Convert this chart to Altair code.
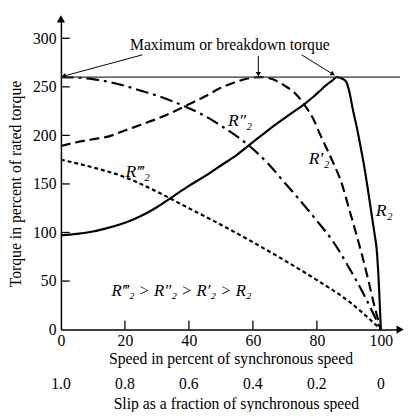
import altair as alt
import pandas as pd

# ---- data ----
r2_speed = [0, 5, 10, 15, 20, 25, 30, 35, 40, 45, 50, 55, 60, 65, 70, 73, 76, 79, 81, 83, 85, 86.2, 87.5, 89, 90, 91.4, 92.5, 93.5, 95, 96, 97, 98, 98.7, 99.4, 100]
r2_torque = [97, 98.5, 101, 105, 110, 117, 126, 137, 148, 158, 169, 180, 193, 206, 218, 225, 232, 240, 246, 252, 257, 260, 259, 256, 247, 224, 208, 191, 164, 143, 121, 99, 82, 45, 0]

r2p_speed = [0, 5, 10, 15, 20, 25, 30, 35, 40, 45, 50, 55, 60, 62.3, 66, 70, 73, 76, 79, 81, 84.4, 88, 90, 92, 94, 96, 98, 100]
r2p_torque = [189, 193, 196, 199, 205, 211, 217, 224, 232, 240, 249, 255.5, 259.5, 260, 258, 251, 244, 232, 216, 201, 177, 148, 125, 102, 78, 52, 24, 0]

r2pp_speed = [0, 5, 10, 15, 20, 25, 30, 35, 40, 45, 50, 55, 60, 65, 70, 75, 80, 85, 90, 95, 100]
r2pp_torque = [260, 259.5, 258, 255, 251, 246, 241, 235, 228, 220, 210, 199, 186, 170, 151, 132, 112, 91, 64, 34, 0]

r2ppp_speed = [0, 10, 20, 30, 40, 50, 60, 70, 80, 90, 100]
r2ppp_torque = [175, 167, 157, 142, 125, 108, 90, 71, 51, 29, 0]

max_torque = 260

speed_ticks = [0, 20, 40, 60, 80, 100]
torque_ticks = [0, 50, 100, 150, 200, 250, 300]
inner_speed_ticks = [20, 40, 60, 80]
inner_torque_ticks = [50, 100, 150, 200, 250, 300]
slip_labels = ["1.0", "0.8", "0.6", "0.4", "0.2", "0"]
slip_values = [1.0, 0.8, 0.6, 0.4, 0.2, 0.0]

label_text = ["R\u2034\u2082", "R\u2033\u2082", "R\u2032\u2082", "R\u2082"]
label_x = [24, 56, 80.7, 101]
label_y = [162, 215, 176, 122]

relation_text = ["R\u2034\u2082 > R\u2033\u2082 > R\u2032\u2082 > R\u2082"]
relation_x = [37.7]
relation_y = [39.4]

annot_text = ["Maximum or breakdown torque"]
annot_x = [52.8]
annot_y = [293]

arrow_x1 = [25.5, 61.7, 75.2]
arrow_y1 = [283, 282, 283]
arrow_x2 = [0.8, 61.7, 85.0]
arrow_y2 = [261, 263, 263]
arrow_angle = [255, 180, 121]

# ---- layout ----
W, H = 346, 317
FONT = "Liberation Serif"
xs = alt.Scale(domain=[0, 106], nice=False, zero=False)
ys = alt.Scale(domain=[0, 320], nice=False, zero=False)


def curve(sp, tq):
    return pd.DataFrame({"speed": sp, "torque": tq})


x_axis = alt.Axis(values=speed_ticks, ticks=False, tickSize=0, grid=False,
                  domainColor="black", domainWidth=1.5,
                  labelFont=FONT, labelFontSize=16, labelColor="black", labelPadding=3,
                  labelFlush=False,
                  title="Speed in percent of synchronous speed", titleFont=FONT,
                  titleFontSize=16, titleFontWeight="normal", titleColor="black",
                  titlePadding=3)
y_axis = alt.Axis(values=torque_ticks, ticks=False, tickSize=0, grid=False,
                  domainColor="black", domainWidth=1.5,
                  labelFont=FONT, labelFontSize=16, labelColor="black", labelPadding=5,
                  labelFlush=False,
                  title="Torque in percent of rated torque", titleFont=FONT,
                  titleFontSize=16, titleFontWeight="normal", titleColor="black",
                  titlePadding=9, titleY=168)


def X(field):
    return alt.X(field, scale=xs, axis=x_axis)


def Y(field):
    return alt.Y(field, scale=ys, axis=y_axis)


def line_layer(sp, tq, dash=None):
    kw = dict(color="black", strokeWidth=2.2, interpolate="monotone")
    if dash:
        kw["strokeDash"] = dash
    return alt.Chart(curve(sp, tq)).mark_line(**kw).encode(
        x=X("speed:Q"), y=Y("torque:Q"))


l_r2 = line_layer(r2_speed, r2_torque)
l_p = line_layer(r2p_speed, r2p_torque, [10, 5])
l_pp = line_layer(r2pp_speed, r2pp_torque, [13, 5, 3, 5])
l_ppp = line_layer(r2ppp_speed, r2ppp_torque, [4, 3])

max_line = alt.Chart(pd.DataFrame({"speed": [0], "b": [106], "torque": [max_torque]})).mark_rule(
    color="#333333", strokeWidth=1.3).encode(
    x=X("speed:Q"), x2="b:Q", y=Y("torque:Q"))

xt = alt.Chart(pd.DataFrame({"speed": inner_speed_ticks})).mark_rule(
    color="black", strokeWidth=1.3).encode(
    x=X("speed:Q"), y=alt.value(H), y2=alt.value(H - 9))
yt = alt.Chart(pd.DataFrame({"torque": inner_torque_ticks})).mark_rule(
    color="black", strokeWidth=1.3).encode(
    y=Y("torque:Q"), x=alt.value(0), x2=alt.value(9))

axis_heads = alt.Chart(pd.DataFrame({"speed": [0, 106], "torque": [320, 0], "ang": [0, 90]})).mark_point(
    shape="triangle-up", filled=True, color="black", size=70, opacity=1).encode(
    x=X("speed:Q"), y=Y("torque:Q"),
    angle=alt.Angle("ang:Q", scale=None))

arr_df = pd.DataFrame({"speed": arrow_x1, "torque": arrow_y1, "x2": arrow_x2, "y2": arrow_y2,
                       "ang": arrow_angle})
arr_lines = alt.Chart(arr_df).mark_rule(color="black", strokeWidth=1).encode(
    x=X("speed:Q"), y=Y("torque:Q"), x2="x2:Q", y2="y2:Q")
arr_heads_df = pd.DataFrame({"speed": arrow_x2, "torque": arrow_y2, "ang": arrow_angle})
arr_heads = alt.Chart(arr_heads_df).mark_point(
    shape="triangle-up", filled=True, color="black", size=28, opacity=1).encode(
    x=X("speed:Q"), y=Y("torque:Q"),
    angle=alt.Angle("ang:Q", scale=None))


def text_layer(xv, yv, tv, **kw):
    return alt.Chart(pd.DataFrame({"speed": xv, "torque": yv, "t": tv})).mark_text(
        font=FONT, color="black", **kw).encode(
        x=X("speed:Q"), y=Y("torque:Q"), text="t:N")


annot = text_layer(annot_x, annot_y, annot_text, fontSize=16)
labels = text_layer(label_x, label_y, label_text, fontSize=18, fontStyle="italic")
relation = text_layer(relation_x, relation_y, relation_text, fontSize=17, fontStyle="italic")

slip_df = pd.DataFrame({"s": slip_values, "lab": slip_labels})
slip_labs = alt.Chart(slip_df).transform_calculate(
    speed="100 * (1 - datum.s)").mark_text(
    font=FONT, fontSize=16, color="black").encode(
    x=X("speed:Q"), y=alt.value(H + 56), text="lab:N")

slip_title = alt.Chart(pd.DataFrame({"t": ["Slip as a fraction of synchronous speed"]})).mark_text(
    font=FONT, fontSize=16, color="black").encode(
    x=alt.value(179), y=alt.value(H + 76), text="t:N")

chart = alt.layer(
    l_r2, l_p, l_pp, l_ppp, max_line, xt, yt, axis_heads,
    arr_lines, arr_heads, annot, labels, relation, slip_labs, slip_title
).properties(
    width=W, height=H,
    autosize=alt.AutoSizeParams(type="none"),
    padding={"left": 54, "top": 7, "right": 4, "bottom": 80},
    background="white"
).configure_view(strokeWidth=0)

chart.save("out.html", embed_options={"renderer": "svg", "actions": False})
